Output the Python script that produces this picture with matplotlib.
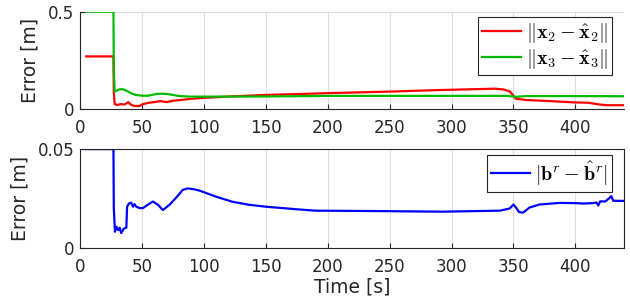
import numpy as np
import matplotlib.pyplot as plt

plt.rcParams['mathtext.fontset'] = 'cm'
plt.rcParams['font.family'] = 'DejaVu Sans'

# position error of agent 2 and 3
t_x2 = [5, 27, 27.3, 28, 30, 33, 36, 39, 41, 44, 48, 51, 56, 60, 65, 70, 75, 80, 90,
        100, 110, 125, 150, 185, 200, 250, 290, 335, 342, 347, 352, 360, 380, 400,
        410, 418, 425, 439]
err_x2 = [0.27, 0.27, 0.085, 0.025, 0.02, 0.025, 0.022, 0.035, 0.022, 0.015, 0.015,
          0.025, 0.032, 0.035, 0.04, 0.035, 0.042, 0.045, 0.052, 0.057, 0.06, 0.065,
          0.072, 0.078, 0.081, 0.089, 0.097, 0.104, 0.1, 0.09, 0.052, 0.046, 0.04,
          0.033, 0.032, 0.024, 0.019, 0.019]

t_x3 = [5, 27, 27.3, 28, 30, 32, 35, 38, 42, 45, 50, 55, 62, 66, 70, 75, 80, 90, 100,
        150, 200, 250, 300, 345, 352, 360, 400, 439]
err_x3 = [0.5, 0.5, 0.2, 0.089, 0.095, 0.101, 0.101, 0.092, 0.078, 0.072, 0.068,
          0.068, 0.077, 0.078, 0.077, 0.072, 0.066, 0.063, 0.063, 0.064, 0.067,
          0.067, 0.067, 0.067, 0.062, 0.066, 0.066, 0.065]

# range bias error
t_b = [5, 27, 27.3, 28.2, 29.5, 30.8, 32, 33.3, 35.2, 37.4, 38, 39.5, 41.4, 42.7, 44,
       45.4, 48, 50.8, 54.8, 58.8, 62.9, 66.9, 72.3, 77.6, 83, 87, 92, 97, 110, 123,
       136, 150, 177, 190, 239, 293, 339, 347, 350, 352, 354.5, 357.7, 363, 371, 387,
       400, 406, 414, 417, 418.5, 420, 424, 427, 429, 430.5, 439]
err_b = [0.05, 0.05, 0.02, 0.0084, 0.0109, 0.0092, 0.0104, 0.0077, 0.0099, 0.0104,
         0.021, 0.0226, 0.023, 0.021, 0.0223, 0.021, 0.0203, 0.0203, 0.022, 0.0236,
         0.022, 0.0193, 0.022, 0.0255, 0.0295, 0.0302, 0.0298, 0.029, 0.026, 0.0235,
         0.022, 0.021, 0.0196, 0.019, 0.0188, 0.0185, 0.019, 0.0201, 0.0221, 0.0206,
         0.0183, 0.018, 0.0206, 0.0221, 0.0229, 0.0228, 0.0226, 0.0228, 0.0231,
         0.0216, 0.0237, 0.0236, 0.0251, 0.0263, 0.024, 0.0239]

xticks = np.arange(0, 401, 50)
ink = '#262626'
grid_c = '#dedede'

fig = plt.figure(figsize=(6.3, 3.0), dpi=100)
ax1 = fig.add_axes([0.127, 0.637, 0.863, 0.324])
ax2 = fig.add_axes([0.127, 0.172, 0.863, 0.331])

ax1.plot(t_x2, err_x2, color='#ff0000', lw=1.6,
         label=r'$\|\mathbf{x}_2-\hat{\mathbf{x}}_2\|$')
ax1.plot(t_x3, err_x3, color='#00bb00', lw=1.6,
         label=r'$\|\mathbf{x}_3-\hat{\mathbf{x}}_3\|$')
ax1.set_ylim(0, 0.5)
ax1.set_yticks([0, 0.5])
ax1.set_yticklabels(['0', '0.5'])
ax1.spines['top'].set_visible(False)
ax1.spines['right'].set_visible(False)

ax2.plot(t_b, err_b, color='#0000ff', lw=1.6,
         label=r'$|\mathbf{b}^r-\hat{\mathbf{b}}^r|$')
ax2.set_ylim(0, 0.05)
ax2.set_yticks([0, 0.05])
ax2.set_yticklabels(['0', '0.05'])
ax2.set_xlabel('Time [s]', fontsize=13.5, color=ink, labelpad=1)

for ax in (ax1, ax2):
    ax.set_xlim(0, 439)
    ax.set_xticks(xticks)
    ax.grid(True, color=grid_c, lw=0.8)
    ax.set_axisbelow(True)
    ax.tick_params(direction='in', length=3.5, width=0.8, labelsize=12,
                   colors=ink)
    ax.tick_params(axis='x', pad=7)
    ax.tick_params(axis='y', pad=4)
    for s in ax.spines.values():
        s.set_color(ink)
        s.set_linewidth(0.8)
    ax.set_ylabel('Error [m]', fontsize=13.5, color=ink, labelpad=6)
    leg = ax.legend(loc='upper right', bbox_to_anchor=(0.978, 0.942),
                    borderaxespad=0, fontsize=14.5, fancybox=False,
                    edgecolor=ink, framealpha=1, handlelength=1.95,
                    borderpad=0.2, labelspacing=0.1, handletextpad=0.25)
    leg.get_frame().set_linewidth(0.8)

fig.savefig('out.png', dpi=100)
